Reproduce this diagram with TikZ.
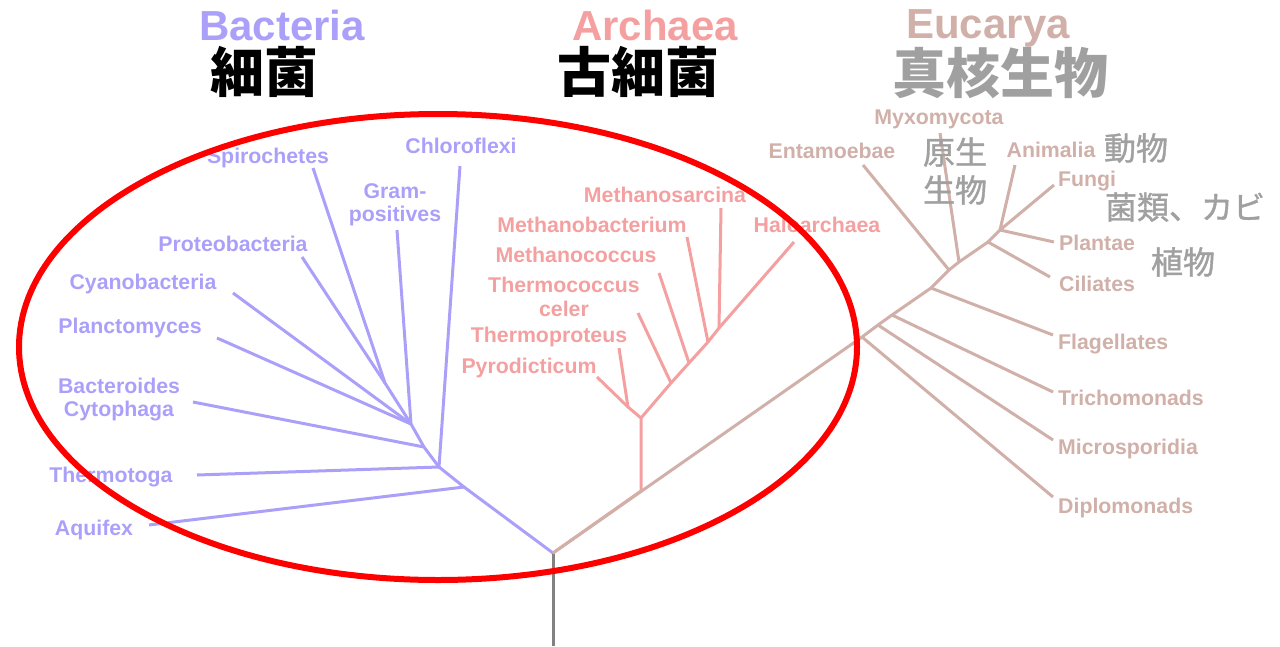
\documentclass[tikz,border=0pt]{standalone}
\usepackage{fontspec}
\setmainfont{Liberation Sans}
\newfontfamily\cjk{Noto Sans CJK JP}
\newfontfamily\cjkm{Noto Sans CJK JP}[FakeBold=1.2]
\definecolor{bac}{RGB}{170,160,250}
\definecolor{arc}{RGB}{245,160,160}
\definecolor{euk}{RGB}{208,176,168}
\definecolor{gry}{RGB}{160,160,160}
\definecolor{stemc}{RGB}{130,130,130}
\begin{document}
\begin{tikzpicture}[x=1pt,y=-1pt,
  lbl/.style={font=\bfseries\fontsize{21.3}{24}\selectfont, inner sep=0pt, anchor=base},
  bl/.style={lbl, text=bac},
  al/.style={lbl, text=arc},
  el/.style={lbl, text=euk},
  hdr/.style={font=\bfseries\fontsize{42}{48}\selectfont, inner sep=0pt, anchor=base, text depth=0pt},
  jp/.style={font=\cjk\bfseries\fontsize{54}{60}\selectfont, inner sep=0pt},
  jps/.style={font=\cjkm\fontsize{32}{36}\selectfont, inner sep=0pt, text=gry},
  bline/.style={draw=bac, line width=3pt, line join=round},
  aline/.style={draw=arc, line width=3pt, line join=round},
  eline/.style={draw=euk, line width=3pt, line join=round}]
\useasboundingbox (0,0) rectangle (1280,646);

% ---------- coordinates ----------
\coordinate (R) at (553,553);
\coordinate (stemE) at (553,646);
% bacteria
\coordinate (b1) at (464,487);
\coordinate (b2) at (439,467);
\coordinate (b3) at (424,447);
\coordinate (b4) at (411,424);
\coordinate (b5) at (385,383);
\coordinate (spiE) at (313,168);
\coordinate (proE) at (302,257);
\coordinate (graE) at (397,230);
\coordinate (chlE) at (460,166);
\coordinate (cyaE) at (233,293);
\coordinate (plcE) at (217,338);
\coordinate (bctE) at (193,402);
\coordinate (thtE) at (197,475);
\coordinate (aqE) at (149,525);
% archaea
\coordinate (a0) at (641,491);
\coordinate (a1) at (641,418);
\coordinate (a2) at (628,407);
\coordinate (a3) at (671,383);
\coordinate (a4) at (689,363);
\coordinate (a5) at (708,342);
\coordinate (a6) at (719,328);
\coordinate (haloE) at (794,242);
\coordinate (pyrE) at (597,377);
\coordinate (thpE) at (619,348);
\coordinate (thcE) at (638,313);
\coordinate (mcoE) at (659,273);
\coordinate (mbaE) at (687,237);
\coordinate (msaE) at (721,208);
% eucarya
\coordinate (e1) at (862,337);
\coordinate (e2) at (878,325);
\coordinate (e3) at (892,315);
\coordinate (e4) at (931,288);
\coordinate (e5) at (949,270);
\coordinate (e6) at (959,262);
\coordinate (e7) at (988,242);
\coordinate (e8) at (1000,230);
\coordinate (dipE) at (1053,497);
\coordinate (micE) at (1053,440);
\coordinate (triE) at (1053,392);
\coordinate (flaE) at (1053,335);
\coordinate (entE) at (863,165);
\coordinate (myxE) at (940,133);
\coordinate (cilE) at (1050,277);
\coordinate (aniE) at (1015,165);
\coordinate (funE) at (1054,185);
\coordinate (plnE) at (1054,242);

% ---------- stem ----------
\draw[draw=stemc, line width=3pt] (R) -- (stemE);

% ---------- bacteria tree ----------
\draw[bline] (R) -- (b1) -- (b2) -- (b3) -- (b4) -- (b5) -- (spiE);
\draw[bline] (b5) -- (proE);
\draw[bline] (b4) -- (graE);
\draw[bline] (b4) -- (cyaE);
\draw[bline] (b4) -- (plcE);
\draw[bline] (b3) -- (bctE);
\draw[bline] (b2) -- (thtE);
\draw[bline] (b2) -- (chlE);
\draw[bline] (b1) -- (aqE);

% ---------- archaea tree ----------
\draw[aline] (R) -- (a0) -- (a1) -- (a3) -- (a4) -- (a5) -- (a6) -- (haloE);
\draw[aline] (a1) -- (a2) -- (pyrE);
\draw[aline] (a2) -- (thpE);
\draw[aline] (a3) -- (thcE);
\draw[aline] (a4) -- (mcoE);
\draw[aline] (a5) -- (mbaE);
\draw[aline] (a6) -- (msaE);

% ---------- eucarya tree ----------
\draw[eline] (R) -- (e1) -- (e2) -- (e3) -- (e4) -- (e5) -- (e6) -- (e7) -- (e8) -- (aniE);
\draw[eline] (e8) -- (funE);
\draw[eline] (e8) -- (plnE);
\draw[eline] (e7) -- (cilE);
\draw[eline] (e6) -- (myxE);
\draw[eline] (e5) -- (entE);
\draw[eline] (e4) -- (flaE);
\draw[eline] (e3) -- (triE);
\draw[eline] (e2) -- (micE);
\draw[eline] (e1) -- (dipE);

% ---------- headers ----------
\node[hdr, text=bac] (hB) at (282,40) {Bacteria};
\node[hdr, text=arc] (hA) at (655,40) {Archaea};
\node[hdr, text=euk] (hE) at (988,38) {Eucarya};
\node[jp] (jB) at (264,72) {細菌};
\node[jp] (jA) at (638,72) {古細菌};
\node[jp, text=gry] (jE) at (1000,73) {真核生物};

% ---------- bacteria labels ----------
\node[bl] (lSpi) at (268,163) {Spirochetes};
\node[bl] (lChl) at (461,153) {Chloroflexi};
\node[bl] (lGra1) at (395,198) {Gram-};
\node[bl] (lGra2) at (395,221) {positives};
\node[bl] (lPro) at (233,251) {Proteobacteria};
\node[bl] (lCya) at (143,289) {Cyanobacteria};
\node[bl] (lPla) at (130,333) {Planctomyces};
\node[bl] (lBac1) at (119,393) {Bacteroides};
\node[bl] (lBac2) at (119,416) {Cytophaga};
\node[bl] (lTht) at (111,482) {Thermotoga};
\node[bl] (lAq) at (94,535) {Aquifex};

% ---------- archaea labels ----------
\node[al] (lMsa) at (665,202) {Methanosarcina};
\node[al] (lMba) at (592,232) {Methanobacterium};
\node[al] (lMco) at (576,262) {Methanococcus};
\node[al] (lThc1) at (564,292) {Thermococcus};
\node[al] (lThc2) at (564,316) {celer};
\node[al] (lThp) at (549,342) {Thermoproteus};
\node[al] (lPyr) at (529,373) {Pyrodicticum};
\node[al] (lHal) at (817,232) {Haloarchaea};

% ---------- eucarya labels ----------
\node[el] (lMyx) at (939,124) {Myxomycota};
\node[el] (lEnt) at (832,158) {Entamoebae};
\node[el] (lAni) at (1051,157) {Animalia};
\node[el] (lFun) at (1087,186) {Fungi};
\node[el, anchor=base west] (lPln) at (1059,250) {Plantae};
\node[el, anchor=base west] (lCil) at (1059,291) {Ciliates};
\node[el, anchor=base west] (lFla) at (1058,349) {Flagellates};
\node[el, anchor=base west] (lTri) at (1058,405) {Trichomonads};
\node[el, anchor=base west] (lMic) at (1058,454) {Microsporidia};
\node[el, anchor=base west] (lDip) at (1058,513) {Diplomonads};

% ---------- japanese gray labels ----------
\node[jps] (jPro1) at (955,152) {原生};
\node[jps] (jPro2) at (955,190) {生物};
\node[jps] (jAni) at (1136,148) {動物};
\node[jps] (jFun) at (1185,207) {菌類、カビ};
\node[jps] (jPln) at (1183,262) {植物};

% ---------- red ellipse ----------
\draw[red, line width=6pt] (438,347) ellipse [x radius=419pt, y radius=233pt];
\end{tikzpicture}
\end{document}
